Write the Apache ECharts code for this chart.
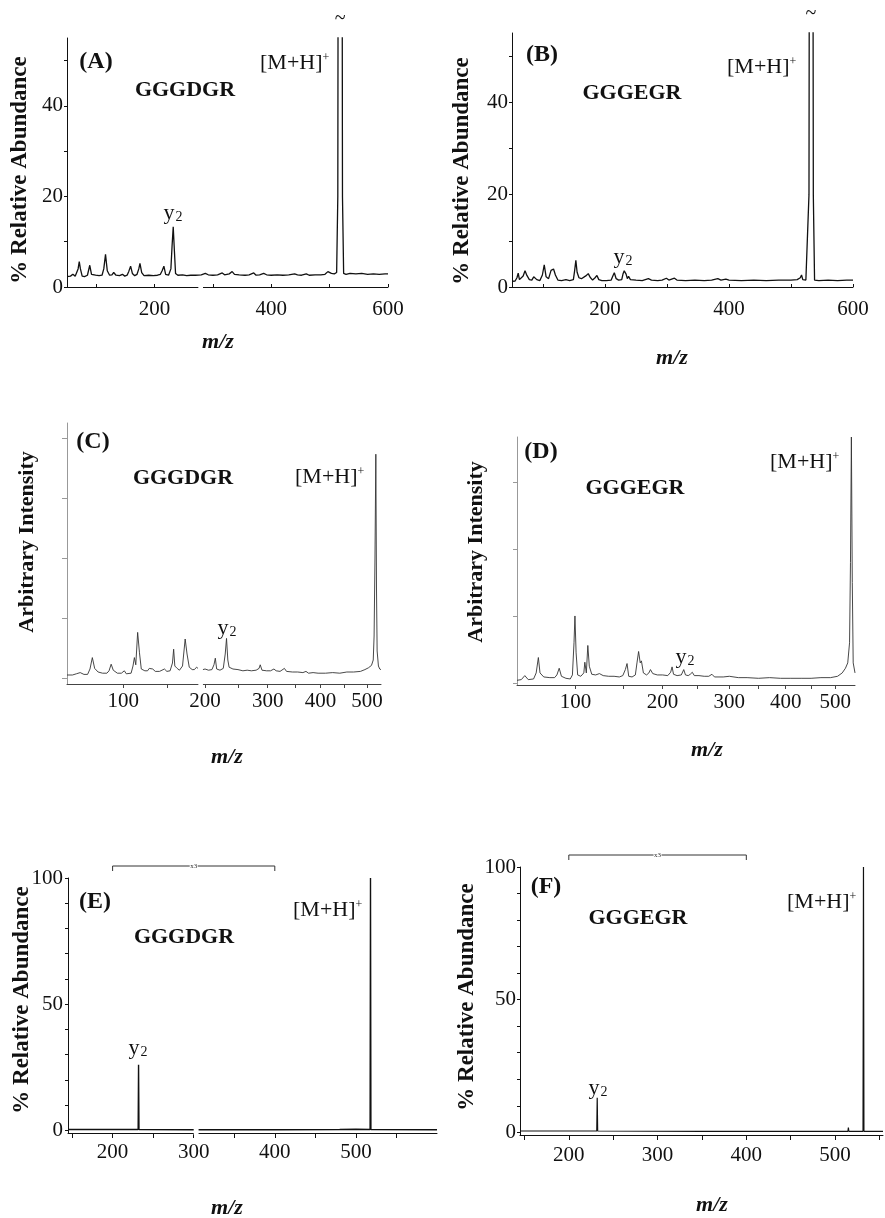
<!DOCTYPE html>
<html>
<head>
<meta charset="utf-8">
<script src="https://cdn.jsdelivr.net/npm/echarts@6/dist/echarts.min.js"></script>
<style>
  html, body { margin: 0; padding: 0; background: #fff; }
  #chart { width: 885px; height: 1218px; }
</style>
</head>
<body>
<div id="chart"></div>
<script>
'use strict';

var FONT = '"Liberation Serif", "Times New Roman", serif';

// texts of the six panels
var panelLetters = ['(A)', '(B)', '(C)', '(D)', '(E)', '(F)'];
var peptides = ['GGGDGR', 'GGGEGR', 'GGGDGR', 'GGGEGR', 'GGGDGR', 'GGGEGR'];
var yTitles = ['% Relative Abundance', '% Relative Abundance', 'Arbitrary Intensity',
  'Arbitrary Intensity', '% Relative Abundance', '% Relative Abundance'];

// spectra: [m/z, intensity] ('-' = break in the trace)
var spectrumA = [[50,2.3],[56,2.4],[60,2.8],[62,3.0],[64,2.4],[66,2.3],[69,4.0],[71,5.6],[73,4.0],[76,2.4],
  [80,2.3],[85,2.6],[89,4.8],[92,2.8],[95,2.4],[99,2.6],[102,3.0],[105,2.5],[110,2.6],[113,4.0],[116,7.2],
  [119,3.6],[123,2.6],[127,2.7],[130,3.2],[134,2.6],[140,2.5],[145,2.8],[149,2.4],[153,2.6],[156,3.5],
  [159,4.6],[162,3.0],[166,2.5],[170,2.8],[173,4.0],[175,5.2],[178,3.2],[182,2.5],[190,2.6],[198,2.5],
  [205,2.6],[210,2.8],[213,3.6],[216,4.6],[219,2.8],[224,2.6],[228,4.0],[230,9.0],[232,13.3],[234,8.0],
  [236,3.0],[240,2.6],[248,2.7],[255,2.5],[262,2.6],[270,2.6],[280,2.7],[287,3.0],[292,2.7],[300,2.6],
  [308,2.7],[316,3.1],[320,2.7],[328,2.9],[333,3.4],[337,2.8],[345,2.7],[355,2.6],[362,2.7],[370,3.1],
  [374,2.6],[380,2.7],[387,3.0],[392,2.7],[400,2.6],[410,2.7],[420,2.6],[430,2.7],[440,2.9],[445,2.7],
  [452,2.6],[460,2.9],[465,2.6],[475,2.7],[485,2.7],[492,2.8],[497,3.4],[500,3.8],[503,3.0],[508,2.9],
  [512,3.2],[514,20],[515,120],[521,120],[522,20],[524,3.0],[528,2.8],[535,3.0],[545,2.9],[555,3.0],
  [565,2.8],[575,2.9],[585,2.8],[595,2.9],[600,2.9]];

var spectrumB = [[50,1.2],[55,1.3],[58,2.0],[60,3.0],[62,1.6],[65,1.4],[68,2.4],[71,3.5],[74,2.5],[78,1.6],
  [82,1.5],[85,2.2],[87,2.5],[90,1.6],[95,1.4],[99,2.6],[102,4.8],[105,2.2],[109,1.8],[113,3.6],[117,3.9],
  [120,2.6],[124,1.5],[130,1.4],[137,1.6],[143,1.4],[149,1.6],[151,3.5],[153,5.8],[155,3.2],[158,2.0],
  [162,1.8],[165,1.5],[169,2.4],[173,2.9],[176,2.1],[180,1.5],[184,2.0],[187,2.5],[190,1.6],[195,1.4],
  [202,1.4],[210,1.5],[213,2.5],[215,3.1],[218,1.8],[222,1.5],[227,1.6],[229,2.8],[231,3.5],[234,2.8],
  [236,1.8],[238,2.3],[241,1.6],[250,1.5],[260,1.4],[270,1.8],[275,1.5],[285,1.4],[292,1.5],[299,1.9],
  [303,1.5],[312,1.9],[316,1.5],[330,1.4],[345,1.5],[360,1.4],[372,1.5],[382,1.8],[387,1.5],[395,1.7],
  [400,1.5],[420,1.4],[440,1.5],[460,1.4],[480,1.5],[500,1.5],[510,1.6],[515,2.0],[517,2.6],[519,1.6],
  [524,1.5],[527,1.8],[529,20],[530,120],[535,120],[536,20],[538,1.5],[545,1.4],[560,1.5],[575,1.4],
  [590,1.5],[600,1.5]];

var spectrumC = [[51,0.05],[55,0.05],[58,0.07],[61,0.09],[64,0.06],[67,0.06],[69,0.15],[71,0.34],[73,0.16],
  [76,0.1],[80,0.08],[84,0.08],[86,0.12],[88,0.23],[90,0.13],[94,0.08],[98,0.08],[101,0.12],[103,0.07],
  [108,0.08],[110,0.2],[111.5,0.34],[113,0.22],[115,0.76],[117,0.42],[119,0.15],[123,0.12],[126,0.12],
  [128,0.16],[130,0.13],[132,0.15],[135,0.11],[140,0.11],[146,0.15],[149,0.11],[153,0.12],[156,0.25],
  [157.5,0.48],[159,0.2],[162,0.16],[165,0.13],[169,0.2],[172.5,0.65],[175,0.4],[178,0.18],[182,0.14],
  [185,0.14],[188,0.18],[190,0.16],[193,'-'],[197,0.14],[200,0.15],[205,0.13],[210,0.14],[213,0.22],
  [215,0.33],[217,0.15],[222,0.13],[227,0.16],[230,0.4],[232,0.66],[234,0.3],[236,0.18],[242,0.15],
  [250,0.14],[258,0.12],[265,0.13],[272,0.12],[280,0.13],[285,0.16],[287,0.22],[290,0.13],[298,0.12],
  [305,0.12],[311,0.15],[315,0.12],[322,0.11],[330,0.16],[334,0.11],[345,0.1],[355,0.1],[365,0.09],
  [371,0.11],[376,0.08],[385,0.09],[395,0.08],[410,0.08],[425,0.09],[440,0.08],[455,0.1],[470,0.1],
  [485,0.11],[495,0.14],[503,0.17],[510,0.21],[514,0.3],[516,0.7],[518,2.0],[520,3.73],[521.5,1.5],
  [523,0.45],[526,0.2],[529,0.15],[532,0.14]];

var spectrumD = [[52,0.04],[55,0.05],[57.5,0.11],[60,0.05],[64,0.06],[66,0.15],[67.7,0.38],[69,0.15],
  [72,0.09],[77,0.08],[81,0.08],[83,0.12],[85,0.22],[87,0.1],[91,0.07],[95,0.06],[97,0.12],[98.5,0.6],
  [99.4,1.0],[100.5,0.45],[102,0.12],[105,0.1],[108,0.15],[109,0.31],[110.5,0.15],[112,0.56],[113.5,0.25],
  [116,0.13],[120,0.12],[124,0.14],[128,0.11],[134,0.1],[140,0.1],[146,0.09],[150,0.11],[153,0.2],
  [155,0.29],[157,0.1],[161,0.09],[165,0.12],[167,0.3],[169,0.47],[171,0.3],[172.5,0.33],[175,0.15],
  [179,0.12],[182,0.15],[184,0.2],[187,0.14],[193,0.12],[200,0.12],[207,0.11],[211,0.16],[213,0.24],
  [215,0.13],[220,0.11],[226,0.12],[229.5,0.2],[232,0.12],[236,0.11],[239,0.13],[242,0.16],[245,0.11],
  [252,0.11],[260,0.1],[267,0.1],[272,0.13],[276,0.09],[290,0.09],[300,0.1],[315,0.08],[330,0.08],
  [350,0.07],[370,0.08],[390,0.07],[410,0.07],[430,0.07],[450,0.07],[470,0.08],[490,0.08],[505,0.1],
  [515,0.15],[522,0.22],[527,0.3],[531,0.6],[533,1.8],[535,3.67],[537,1.5],[539,0.3],[543,0.15]];

var spectrumE = [[145,0.4],[200,0.4],[231.5,0.4],[232,26],[232.5,0.4],[300,0.3],[302,'-'],[306,0.3],
  [400,0.3],[480,0.4],[500,0.5],[517.5,0.4],[518,100],[518.5,0.4],[600,0.3]];

var spectrumF = [[145,0.5],[231.5,0.5],[232,13],[232.5,0.5],[350,0.4],[450,0.4],[514.5,0.4],[515,1.8],
  [515.5,0.4],[531.5,0.4],[532,100],[532.5,0.4],[554,0.4]];

// axis ranges and ticks
var xRangeAB = [50, 600], xTicksAB = [100, 200, 300, 400, 500, 600], xLabelsAB = [200, 400, 600];
var xRangeC = [51, 532], xRangeD = [52, 543];
var xTicksCD = [100, 150, 200, 250, 300, 350, 400, 450, 500], xLabelsCD = [100, 200, 300, 400, 500];
var xRangeE = [145, 600], xRangeF = [145, 554];
var xTicksEF = [150, 200, 250, 300, 350, 400, 450, 500, 550], xLabelsEF = [200, 300, 400, 500];
var yTicksAB = [0, 10, 20, 30, 40, 50], yLabelsAB = [0, 20, 40];
var yTicksCD = [0, 1, 2, 3, 4];
var yTicksEF = [0, 10, 20, 30, 40, 50, 60, 70, 80, 90, 100], yLabelsEF = [0, 50, 100];
var bracketRange = [200, 400], bracketLabel = 'x3';

var sqrtPair = function (p) { return [Math.sqrt(p[0]), p[1]]; };

var grids = [
  { left: 67, top: 38, width: 321, height: 249 },
  { left: 512, top: 33, width: 341, height: 254 },
  { left: 67, top: 423, width: 314, height: 261 },
  { left: 517, top: 437, width: 338, height: 248 },
  { left: 68, top: 878, width: 369, height: 255 },
  { left: 520, top: 867, width: 363, height: 268 }
];

function xAxis(gi, range, ticks, labels, o) {
  var tf = o.sqrt ? Math.sqrt : function (v) { return v; };
  return {
    type: 'value', gridIndex: gi, min: tf(range[0]), max: tf(range[1]),
    axisLine: { show: true, onZero: false, lineStyle: { color: o.color || '#111', width: 1 } },
    axisTick: { show: true, inside: !!o.inside, length: o.tickLen || 4, customValues: ticks.map(tf),
      lineStyle: { color: o.color || '#111' } },
    axisLabel: { customValues: labels.map(tf), margin: o.margin, fontFamily: FONT, fontSize: 21, color: '#111',
      formatter: function (v) { return Math.round(o.sqrt ? v * v : v); } },
    splitLine: { show: false }
  };
}

function yAxis(gi, min, max, ticks, labels, o) {
  return {
    type: 'value', gridIndex: gi, min: min, max: max,
    axisLine: { show: true, onZero: false, lineStyle: { color: o.color || '#111', width: 1 } },
    axisTick: { show: true, length: o.tickLen || 4, customValues: ticks, lineStyle: { color: o.color || '#111' } },
    axisLabel: { show: !!labels, customValues: labels || [], margin: o.margin || 4, fontFamily: FONT,
      fontSize: 21, color: '#111' },
    splitLine: { show: false }
  };
}

function trace(i, data, color, width) {
  return {
    type: 'line', xAxisIndex: i, yAxisIndex: i, data: data, showSymbol: false, symbol: 'none',
    clip: true, animation: false, lineStyle: { color: color, width: width }
  };
}

var option = {
  backgroundColor: '#fff',
  animation: false,
  grid: grids,
  xAxis: [
    xAxis(0, xRangeAB, xTicksAB, xLabelsAB, { inside: true, tickLen: 3, margin: 12 }),
    xAxis(1, xRangeAB, xTicksAB, xLabelsAB, { inside: true, tickLen: 3, margin: 12 }),
    xAxis(2, xRangeC, xTicksCD, xLabelsCD, { sqrt: true, tickLen: 4, margin: 7, color: '#444' }),
    xAxis(3, xRangeD, xTicksCD, xLabelsCD, { sqrt: true, tickLen: 4, margin: 7, color: '#444' }),
    xAxis(4, xRangeE, xTicksEF, xLabelsEF, { tickLen: 5, margin: 9 }),
    xAxis(5, xRangeF, xTicksEF, xLabelsEF, { tickLen: 5, margin: 10 })
  ],
  yAxis: [
    yAxis(0, 0, 55, yTicksAB, yLabelsAB, { tickLen: 3 }),
    yAxis(1, 0, 55, yTicksAB, yLabelsAB, { tickLen: 3 }),
    yAxis(2, -0.1, 4.25, yTicksCD, null, { tickLen: 5, color: '#999' }),
    yAxis(3, -0.03, 3.67, yTicksCD, null, { tickLen: 4, color: '#999' }),
    yAxis(4, -1, 100, yTicksEF, yLabelsEF, { tickLen: 3, margin: 5 }),
    yAxis(5, -1, 100, yTicksEF, yLabelsEF, { tickLen: 3, margin: 4 })
  ],
  series: [
    trace(0, spectrumA, '#111', 1.3),
    trace(1, spectrumB, '#111', 1.3),
    trace(2, spectrumC.map(sqrtPair), '#333', 0.9),
    trace(3, spectrumD.map(sqrtPair), '#333', 0.9),
    trace(4, spectrumE, '#111', 1.4),
    trace(5, spectrumF, '#111', 1.2)
  ]
};

var chart = echarts.init(document.getElementById('chart'), null, { renderer: 'canvas' });
chart.setOption(option);

// text positions for each panel (px)
var layout = [
  { letter: [96, 62], pep: [185, 90], mh: [260, 63], y2: [173, 213], mz: [218, 342], yt: [20, 170], yts: 23 },
  { letter: [542, 55], pep: [632, 93], mh: [727, 67], y2: [623, 257], mz: [672, 358], yt: [462, 171], yts: 23 },
  { letter: [93, 442], pep: [183, 478], mh: [295, 477], y2: [227, 628], mz: [227, 757], yt: [27, 542], yts: 22 },
  { letter: [541, 452], pep: [635, 488], mh: [770, 462], y2: [685, 657], mz: [707, 750], yt: [476, 552], yts: 22 },
  { letter: [95, 902], pep: [184, 937], mh: [293, 910], y2: [138, 1048], mz: [227, 1208], yt: [22, 1000], yts: 23 },
  { letter: [546, 887], pep: [638, 918], mh: [787, 902], y2: [598, 1088], mz: [712, 1205], yt: [467, 997], yts: 23 }
];

function text(x, y, str, st, extra) {
  var el = {
    type: 'text', x: x, y: y, silent: true,
    style: Object.assign({ text: str, fill: '#111', fontFamily: FONT, fontSize: 22,
      align: 'center', verticalAlign: 'middle' }, st)
  };
  return Object.assign(el, extra || {});
}

var graphics = [];
layout.forEach(function (l, i) {
  graphics.push(text(l.letter[0], l.letter[1], panelLetters[i], { fontSize: 24, fontWeight: 'bold' }));
  graphics.push(text(l.pep[0], l.pep[1], peptides[i], { fontSize: 22, fontWeight: 'bold' }));
  graphics.push(text(l.mh[0], l.mh[1], '[M+H]{sup|+}', { fontSize: 22, align: 'left',
    rich: { sup: { fontSize: 12, fontFamily: FONT, verticalAlign: 'top', fill: '#111' } } }));
  graphics.push(text(l.y2[0], l.y2[1], 'y{sub|2}', { fontSize: 22,
    rich: { sub: { fontSize: 14, fontFamily: FONT, verticalAlign: 'bottom', fill: '#111', padding: [0, 0, 0, 1] } } }));
  graphics.push(text(l.mz[0], l.mz[1], 'm/z', { fontSize: 22, fontWeight: 'bold', fontStyle: 'italic' }));
  graphics.push(text(l.yt[0], l.yt[1], yTitles[i], { fontSize: l.yts, fontWeight: 'bold' },
    { rotation: Math.PI / 2 }));
});

// off-scale marks above the precursor peaks in A and B
[[0, 518], [1, 532]].forEach(function (p) {
  var x = chart.convertToPixel({ xAxisIndex: p[0] }, p[1]);
  graphics.push(text(x, grids[p[0]].top - 19, '~', { fontSize: 20 }));
});

// x3 brackets in E and F
[4, 5].forEach(function (i) {
  var x1 = chart.convertToPixel({ xAxisIndex: i }, bracketRange[0]);
  var x2 = chart.convertToPixel({ xAxisIndex: i }, bracketRange[1]);
  var xm = (x1 + x2) / 2;
  var y = grids[i].top - 12;
  graphics.push({ type: 'polyline', silent: true, shape: { points: [[x1, y + 5], [x1, y], [xm - 4, y]] },
    style: { stroke: '#333', lineWidth: 1, fill: null } });
  graphics.push({ type: 'polyline', silent: true, shape: { points: [[xm + 4, y], [x2, y], [x2, y + 5]] },
    style: { stroke: '#333', lineWidth: 1, fill: null } });
  graphics.push(text(xm, y, bracketLabel, { fontSize: 7, fill: '#333' }));
});

// small breaks in the x axis lines
[[0, 275, 283], [2, 190.5, 197], [4, 300, 306]].forEach(function (g) {
  var tf = g[0] === 2 ? Math.sqrt : function (v) { return v; };
  var a = chart.convertToPixel({ xAxisIndex: g[0] }, tf(g[1]));
  var b = chart.convertToPixel({ xAxisIndex: g[0] }, tf(g[2]));
  var yb = grids[g[0]].top + grids[g[0]].height;
  graphics.push({ type: 'rect', silent: true, z: 100, shape: { x: a, y: yb - 2, width: b - a, height: 4 },
    style: { fill: '#fff' } });
});

chart.setOption({ graphic: graphics });
</script>
</body>
</html>
